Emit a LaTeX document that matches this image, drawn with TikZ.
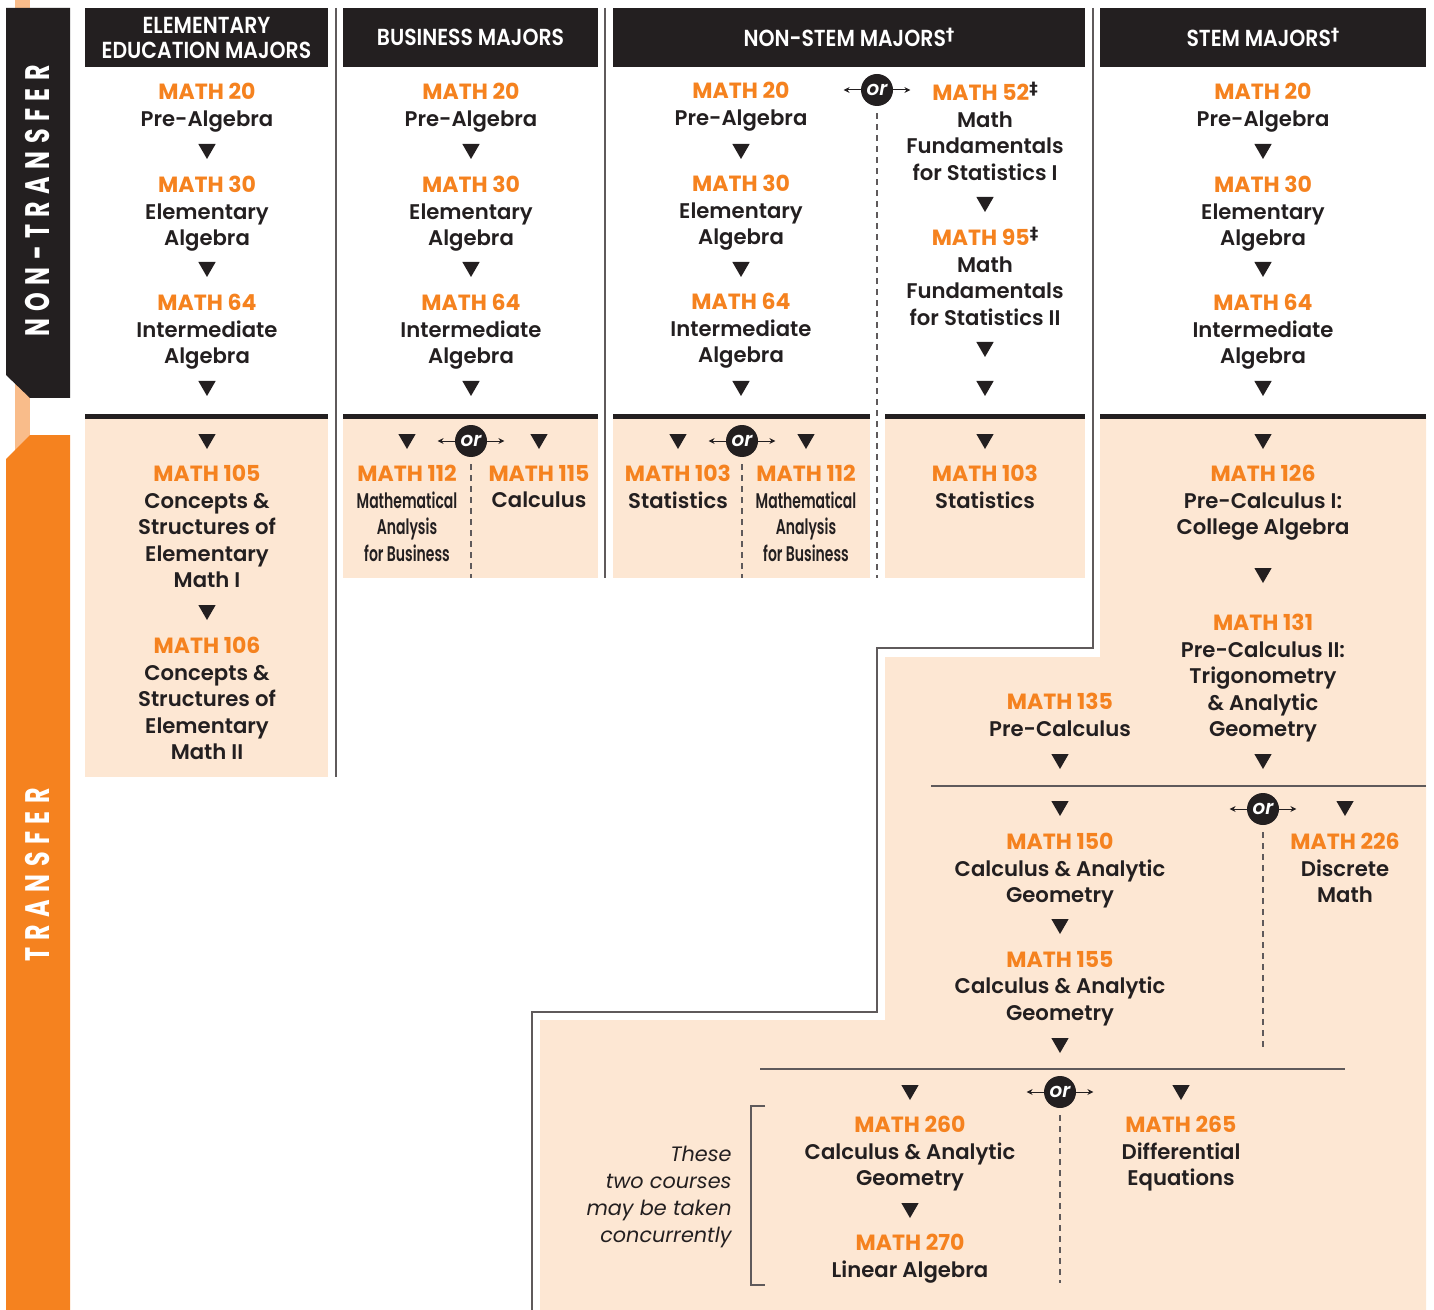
\documentclass[tikz,border=0pt]{standalone}
\usepackage{fontspec}
\setmainfont{Poppins}[BoldFont={Poppins SemiBold}]
\newfontfamily\mpbold{Poppins Bold}
\newfontfamily\mpcond{Poppins}[FakeStretch=0.66,BoldFont={Poppins SemiBold}]
\newfontfamily\mphead{Poppins}[FakeStretch=0.88,BoldFont={Poppins SemiBold}]
\newfontfamily\mpside{Poppins}[FakeStretch=0.7,LetterSpace=22]
\newfontfamily\mpsym{DejaVu Sans}
\usetikzlibrary{arrows.meta,shapes.geometric}
\definecolor{mpOrange}{HTML}{F5821F}
\definecolor{mpPeach}{HTML}{FDE7D3}
\definecolor{mpPale}{HTML}{F9BC8A}
\definecolor{mpBlack}{HTML}{231F20}
\definecolor{mpGray}{HTML}{5F5A5B}
\newcommand{\mpt}[1]{{\mpbold\mdseries\color{mpOrange}\fontsize{11}{13.25}\selectfont #1}}
\newcommand{\mpdag}[1]{\raisebox{0.5ex}{\mpsym\fontsize{8.5}{8.5}\selectfont #1}}
\tikzset{
  mp course/.style={align=center, inner sep=0pt, text=mpBlack, font=\bfseries\fontsize{10.6}{13.25}\selectfont},
  mp cond/.style={mp course, font=\mpcond\bfseries\fontsize{10.6}{13.25}\selectfont},
  mp head/.style={fill=mpBlack, text=white, align=center, inner sep=0pt, minimum height=29.5pt, font=\mphead\bfseries\fontsize{11.6}{12.5}\selectfont},
  mp side/.style={text=white, inner sep=0pt, font=\mpside\bfseries\fontsize{17}{17}\selectfont},
  mp tri/.style={regular polygon, regular polygon sides=3, shape border rotate=180, fill=mpBlack, inner sep=0pt, minimum size=10pt},
  mp or/.style={circle, fill=mpBlack, text=white, inner sep=0pt, minimum size=16pt, font=\bfseries\itshape\fontsize{10}{10}\selectfont},
  mp orarrow/.style={draw=mpBlack, line width=0.5pt, -{Stealth[length=3pt,width=3pt]}},
  mp dash/.style={draw=mpGray, line width=0.6pt, dash pattern=on 3pt off 2.5pt, shorten <=3.5pt},
  mp rule/.style={draw=mpBlack, line width=2.5pt},
  mp thin/.style={draw=mpGray, line width=0.75pt},
  mp note/.style={align=right, inner sep=0pt, text=mpBlack, font=\itshape\fontsize{10.4}{13.4}\selectfont},
}

\begin{document}
\begin{tikzpicture}[x=0.5pt,y=-0.5pt]
  \useasboundingbox (0,0) rectangle (1434,1310);
  % side bar
  \fill[mpPale] (15,0) rectangle (30,460);
  \fill[mpBlack] (6,8) -- (70,8) -- (70,398) -- (30,398) -- (6,375) -- cycle;
  \fill[mpOrange] (6,459) -- (30,435) -- (70,435) -- (70,1310) -- (6,1310) -- cycle;
  \node[mp side, rotate=90] (nonTransfer) at (38,201) {NON-TRANSFER};
  \node[mp side, rotate=90] (transfer) at (38,875) {TRANSFER};
  % transfer areas
  \fill[mpPeach] (85,416) rectangle (328,777);
  \fill[mpPeach] (343,416) rectangle (598,578);
  \fill[mpPeach] (613,416) rectangle (870,578);
  \fill[mpPeach] (885,416) rectangle (1085,578);
  \fill[mpPeach] (1100,416) -- (1426,416) -- (1426,1310) -- (540,1310) -- (540,1020)
    -- (885,1020) -- (885,657) -- (1100,657) -- cycle;
  \draw[mp rule] (85,416.5) -- (328,416.5);
  \draw[mp rule] (343,416.5) -- (598,416.5);
  \draw[mp rule] (613,416.5) -- (870,416.5);
  \draw[mp rule] (885,416.5) -- (1085,416.5);
  \draw[mp rule] (1100,416.5) -- (1426,416.5);
  % separators
  \draw[mp thin] (336,8) -- (336,777);
  \draw[mp thin] (605,8) -- (605,578);
  \draw[mp thin] (1093,8) -- (1093,648) -- (877,648) -- (877,1012) -- (532,1012) -- (532,1310);
  \draw[mp thin] (931,786) -- (1426,786);
  \draw[mp thin] (760,1069) -- (1345,1069);
  \draw[mp thin] (765,1106) -- (751,1106) -- (751,1285) -- (765,1285);
  % headers
  \node[mp head, minimum width=121.5pt] (hElem) at (206.5,37.5) {ELEMENTARY\\EDUCATION MAJORS};
  \node[mp head, minimum width=127.5pt] (hBus) at (470.5,37.5) {BUSINESS MAJORS};
  \node[mp head, minimum width=236pt] (hNon) at (849,37.5) {NON-STEM MAJORS\mpdag{†}};
  \node[mp head, minimum width=163pt] (hStem) at (1263,37.5) {STEM MAJORS\mpdag{†}};

  % elementary education
  \node[mp course, anchor=north] (e20) at (207,83) {\mpt{MATH 20}\\Pre-Algebra};
  \node[mp tri] (e20t) at (207,149) {};
  \node[mp course, anchor=north] (e30) at (207,176) {\mpt{MATH 30}\\Elementary\\Algebra};
  \node[mp tri] (e30t) at (207,267) {};
  \node[mp course, anchor=north] (e64) at (207,294) {\mpt{MATH 64}\\Intermediate\\Algebra};
  \node[mp tri] (e64t) at (207,386) {};
  \node[mp tri] (e105t) at (207,439) {};
  \node[mp course, anchor=north] (e105) at (207,465) {\mpt{MATH 105}\\Concepts \&\\Structures of\\Elementary\\Math I};
  \node[mp tri] (e106t) at (207,610) {};
  \node[mp course, anchor=north] (e106) at (207,637) {\mpt{MATH 106}\\Concepts \&\\Structures of\\Elementary\\Math II};

  % business
  \node[mp course, anchor=north] (b20) at (471,83) {\mpt{MATH 20}\\Pre-Algebra};
  \node[mp tri] (b20t) at (471,149) {};
  \node[mp course, anchor=north] (b30) at (471,176) {\mpt{MATH 30}\\Elementary\\Algebra};
  \node[mp tri] (b30t) at (471,267) {};
  \node[mp course, anchor=north] (b64) at (471,294) {\mpt{MATH 64}\\Intermediate\\Algebra};
  \node[mp tri] (b64t) at (471,386) {};
  \node[mp tri] (b112t) at (407,439) {};
  \node[mp tri] (b115t) at (539,439) {};
  \node[mp or] (bOr) at (471,441) {or};
  \draw[mp orarrow] (bOr.west) -- ++(-17,0);
  \draw[mp orarrow] (bOr.east) -- ++(17,0);
  \coordinate (bEnd) at (471,578);
  \draw[mp dash] (bOr) -- (bEnd);
  \node[mp cond, anchor=north] (b112) at (407,465) {\mpt{MATH 112}\\Mathematical\\Analysis\\for Business};
  \node[mp course, anchor=north] (b115) at (539,465) {\mpt{MATH 115}\\Calculus};

  % non-stem
  \node[mp course, anchor=north] (n20) at (741,82) {\mpt{MATH 20}\\Pre-Algebra};
  \node[mp tri] (n20t) at (741,149) {};
  \node[mp course, anchor=north] (n30) at (741,175) {\mpt{MATH 30}\\Elementary\\Algebra};
  \node[mp tri] (n30t) at (741,267) {};
  \node[mp course, anchor=north] (n64) at (741,293) {\mpt{MATH 64}\\Intermediate\\Algebra};
  \node[mp tri] (n64t) at (741,386) {};
  \node[mp or] (nOr) at (877,90) {or};
  \draw[mp orarrow] (nOr.west) -- ++(-17,0);
  \draw[mp orarrow] (nOr.east) -- ++(17,0);
  \coordinate (nEnd) at (877,578);
  \draw[mp dash] (nOr) -- (nEnd);
  \node[mp course, anchor=north] (n52) at (985,82) {\mpt{MATH 52}\mpdag{‡}\\Math\\Fundamentals\\for Statistics I};
  \node[mp tri] (n52t) at (985,202) {};
  \node[mp course, anchor=north] (n95) at (985,227) {\mpt{MATH 95}\mpdag{‡}\\Math\\Fundamentals\\for Statistics II};
  \node[mp tri] (n95t) at (985,347) {};
  \node[mp tri] (n95u) at (985,386) {};
  \node[mp tri] (n103t) at (678,439) {};
  \node[mp tri] (n112t) at (806,439) {};
  \node[mp or] (nOrB) at (742,441) {or};
  \draw[mp orarrow] (nOrB.west) -- ++(-17,0);
  \draw[mp orarrow] (nOrB.east) -- ++(17,0);
  \coordinate (nEndB) at (742,578);
  \draw[mp dash] (nOrB) -- (nEndB);
  \node[mp course, anchor=north] (n103) at (678,465) {\mpt{MATH 103}\\Statistics};
  \node[mp cond, anchor=north] (n112) at (806,465) {\mpt{MATH 112}\\Mathematical\\Analysis\\for Business};
  \node[mp tri] (n103u) at (985,439) {};
  \node[mp course, anchor=north] (n103b) at (985,465) {\mpt{MATH 103}\\Statistics};

  % stem
  \node[mp course, anchor=north] (s20) at (1263,83) {\mpt{MATH 20}\\Pre-Algebra};
  \node[mp tri] (s20t) at (1263,149) {};
  \node[mp course, anchor=north] (s30) at (1263,176) {\mpt{MATH 30}\\Elementary\\Algebra};
  \node[mp tri] (s30t) at (1263,267) {};
  \node[mp course, anchor=north] (s64) at (1263,294) {\mpt{MATH 64}\\Intermediate\\Algebra};
  \node[mp tri] (s64t) at (1263,386) {};
  \node[mp tri] (s126t) at (1263,439) {};
  \node[mp course, anchor=north] (s126) at (1263,465) {\mpt{MATH 126}\\Pre-Calculus I:\\College Algebra};
  \node[mp tri] (s131t) at (1263,573) {};
  \node[mp course, anchor=north] (s131) at (1263,614) {\mpt{MATH 131}\\Pre-Calculus II:\\Trigonometry\\\& Analytic\\Geometry};
  \node[mp course, anchor=north] (s135) at (1060,693) {\mpt{MATH 135}\\Pre-Calculus};
  \node[mp tri] (s135t) at (1060,759) {};
  \node[mp tri] (s131u) at (1263,759) {};
  \node[mp tri] (s150t) at (1060,806) {};
  \node[mp or] (sOr) at (1263,809) {or};
  \draw[mp orarrow] (sOr.west) -- ++(-17,0);
  \draw[mp orarrow] (sOr.east) -- ++(17,0);
  \coordinate (sEnd) at (1263,1052);
  \draw[mp dash] (sOr) -- (sEnd);
  \node[mp tri] (s226t) at (1345,806) {};
  \node[mp course, anchor=north] (s150) at (1060,833) {\mpt{MATH 150}\\Calculus \& Analytic\\Geometry};
  \node[mp tri] (s155t) at (1060,924) {};
  \node[mp course, anchor=north] (s155) at (1060,951) {\mpt{MATH 155}\\Calculus \& Analytic\\Geometry};
  \node[mp tri] (s155u) at (1060,1043) {};
  \node[mp course, anchor=north] (s226) at (1345,833) {\mpt{MATH 226}\\Discrete\\Math};
  \node[mp tri] (s260t) at (910,1090) {};
  \node[mp or] (sOrB) at (1060,1092) {or};
  \draw[mp orarrow] (sOrB.west) -- ++(-17,0);
  \draw[mp orarrow] (sOrB.east) -- ++(17,0);
  \coordinate (sEndB) at (1060,1283);
  \draw[mp dash] (sOrB) -- (sEndB);
  \node[mp tri] (s265t) at (1181,1090) {};
  \node[mp course, anchor=north] (s260) at (910,1116) {\mpt{MATH 260}\\Calculus \& Analytic\\Geometry};
  \node[mp tri] (s270t) at (910,1208) {};
  \node[mp course, anchor=north] (s270) at (910,1234) {\mpt{MATH 270}\\Linear Algebra};
  \node[mp course, anchor=north] (s265) at (1181,1116) {\mpt{MATH 265}\\Differential\\Equations};
  \node[mp note, anchor=north east] (note) at (732,1146) {These\\two courses\\may be taken\\concurrently};
\end{tikzpicture}
\end{document}
